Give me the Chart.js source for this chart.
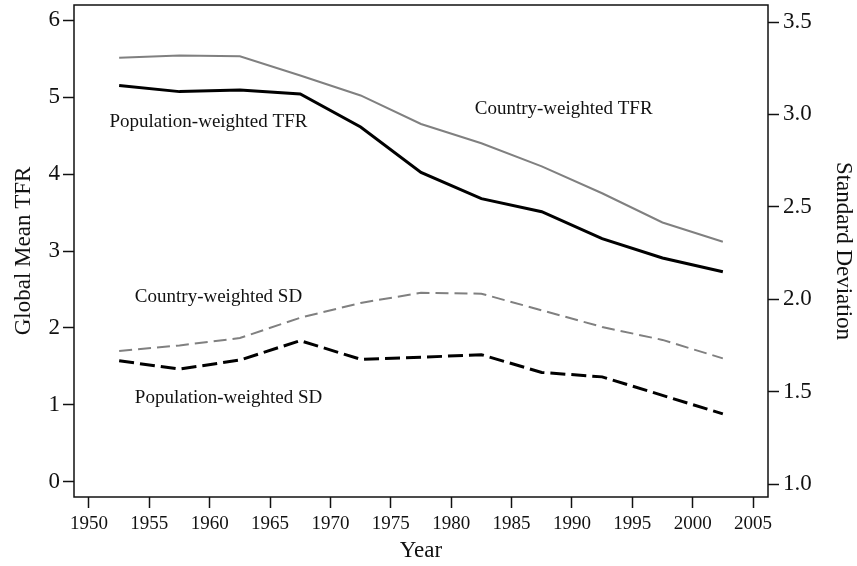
<!DOCTYPE html>
<html>
<head>
<meta charset="utf-8">
<script src="https://cdn.jsdelivr.net/npm/chart.js@4"></script>
<style>
  html, body { margin: 0; padding: 0; background: #fff; }
  #wrap { width: 857px; height: 566px; position: relative; }
</style>
</head>
<body>
<div id="wrap"><canvas id="grafico"></canvas></div>
<script>
const anos = [1952.5, 1957.5, 1962.5, 1967.5, 1972.5, 1977.5, 1982.5, 1987.5, 1992.5, 1997.5, 2002.5];

// TFR medio (eixo esquerdo)
const tfrPopulacao = [5.15, 5.07, 5.09, 5.04, 4.61, 4.02, 3.68, 3.51, 3.16, 2.91, 2.73];
const tfrPaises = [5.51, 5.54, 5.53, 5.28, 5.02, 4.65, 4.40, 4.10, 3.75, 3.37, 3.12];

// desvio padrao (eixo direito)
const dpPaises = [1.72, 1.75, 1.79, 1.90, 1.98, 2.035, 2.03, 1.94, 1.85, 1.78, 1.68];
const dpPopulacao = [1.667, 1.622, 1.671, 1.776, 1.675, 1.686, 1.70, 1.604, 1.58, 1.48, 1.38];

const ticksAno = [1950, 1955, 1960, 1965, 1970, 1975, 1980, 1985, 1990, 1995, 2000, 2005];
const ticksTfr = [0, 1, 2, 3, 4, 5, 6];
const ticksDp = [1.0, 1.5, 2.0, 2.5, 3.0, 3.5];

const rotulos = [
  { texto: 'Population-weighted TFR', x: 1951.7, y: 4.68 },
  { texto: 'Country-weighted TFR', x: 1981.95, y: 4.84 },
  { texto: 'Country-weighted SD', x: 1953.8, y: 2.40 },
  { texto: 'Population-weighted SD', x: 1953.8, y: 1.09 }
];

const serif = '"Liberation Serif", "Times New Roman", serif';
const pontos = (xs, ys) => xs.map((x, i) => ({ x: x, y: ys[i] }));
const fixarTicks = lista => scale => { scale.ticks = lista.map(v => ({ value: v })); };

const moldura = {
  id: 'moldura',
  afterDraw(chart) {
    const { ctx, chartArea: a } = chart;
    ctx.save();
    ctx.strokeStyle = '#111';
    ctx.lineWidth = 1.5;
    ctx.strokeRect(a.left, a.top, a.right - a.left, a.bottom - a.top);
    ctx.restore();
  }
};

const textos = {
  id: 'textos',
  afterDatasetsDraw(chart) {
    const { ctx, scales } = chart;
    ctx.save();
    ctx.font = '19px ' + serif;
    ctx.fillStyle = '#111';
    ctx.textAlign = 'left';
    ctx.textBaseline = 'middle';
    rotulos.forEach(r => {
      ctx.fillText(r.texto, scales.x.getPixelForValue(r.x), scales.y.getPixelForValue(r.y));
    });
    ctx.restore();
  }
};

const gradeTicks = {
  drawOnChartArea: false,
  drawTicks: true,
  tickLength: 11,
  tickWidth: 1.5,
  tickColor: '#111'
};

new Chart(document.getElementById('grafico'), {
  type: 'line',
  data: {
    datasets: [
      {
        label: 'Population-weighted TFR',
        data: pontos(anos, tfrPopulacao),
        yAxisID: 'y',
        borderColor: '#000',
        borderWidth: 3
      },
      {
        label: 'Country-weighted TFR',
        data: pontos(anos, tfrPaises),
        yAxisID: 'y',
        borderColor: '#808080',
        borderWidth: 2
      },
      {
        label: 'Country-weighted SD',
        data: pontos(anos, dpPaises),
        yAxisID: 'y1',
        borderColor: '#808080',
        borderWidth: 2,
        borderDash: [13, 6]
      },
      {
        label: 'Population-weighted SD',
        data: pontos(anos, dpPopulacao),
        yAxisID: 'y1',
        borderColor: '#000',
        borderWidth: 3,
        borderDash: [15, 6]
      }
    ]
  },
  options: {
    responsive: true,
    maintainAspectRatio: false,
    animation: false,
    layout: { padding: { top: 5, left: 0, right: 0, bottom: 0 } },
    elements: { point: { radius: 0 }, line: { tension: 0, borderCapStyle: 'butt' } },
    plugins: { legend: { display: false }, tooltip: { enabled: false } },
    scales: {
      x: {
        type: 'linear',
        min: 1948.76,
        max: 2006.24,
        afterBuildTicks: fixarTicks(ticksAno),
        afterFit: s => { s.height = 69; s.paddingLeft = 0; s.paddingRight = 0; },
        border: { display: false },
        grid: gradeTicks,
        ticks: {
          color: '#111',
          padding: 5,
          maxRotation: 0,
          autoSkip: false,
          font: { family: serif, size: 19 },
          callback: v => String(v)
        },
        title: {
          display: true,
          text: 'Year',
          color: '#111',
          padding: { top: 0, bottom: 1 },
          font: { family: serif, size: 23 }
        }
      },
      y: {
        position: 'left',
        min: -0.195,
        max: 6.195,
        afterBuildTicks: fixarTicks(ticksTfr),
        afterFit: s => { s.width = 74; s.paddingTop = 0; s.paddingBottom = 0; },
        border: { display: false },
        grid: gradeTicks,
        ticks: {
          color: '#111',
          padding: 3,
          autoSkip: false,
          font: { family: serif, size: 23 },
          callback: v => String(v)
        },
        title: {
          display: true,
          text: 'Global Mean TFR',
          color: '#111',
          padding: { top: 10, bottom: 0 },
          font: { family: serif, size: 23 }
        }
      },
      y1: {
        position: 'right',
        min: 0.93,
        max: 3.592,
        afterBuildTicks: fixarTicks(ticksDp),
        afterFit: s => { s.width = 89; s.paddingTop = 0; s.paddingBottom = 0; },
        border: { display: false },
        grid: gradeTicks,
        ticks: {
          color: '#111',
          padding: 4,
          autoSkip: false,
          font: { family: serif, size: 23 },
          callback: v => v.toFixed(1)
        },
        title: {
          display: true,
          text: 'Standard Deviation',
          color: '#111',
          padding: { top: 0, bottom: 0 },
          font: { family: serif, size: 23 }
        }
      }
    }
  },
  plugins: [moldura, textos]
});
</script>
</body>
</html>
